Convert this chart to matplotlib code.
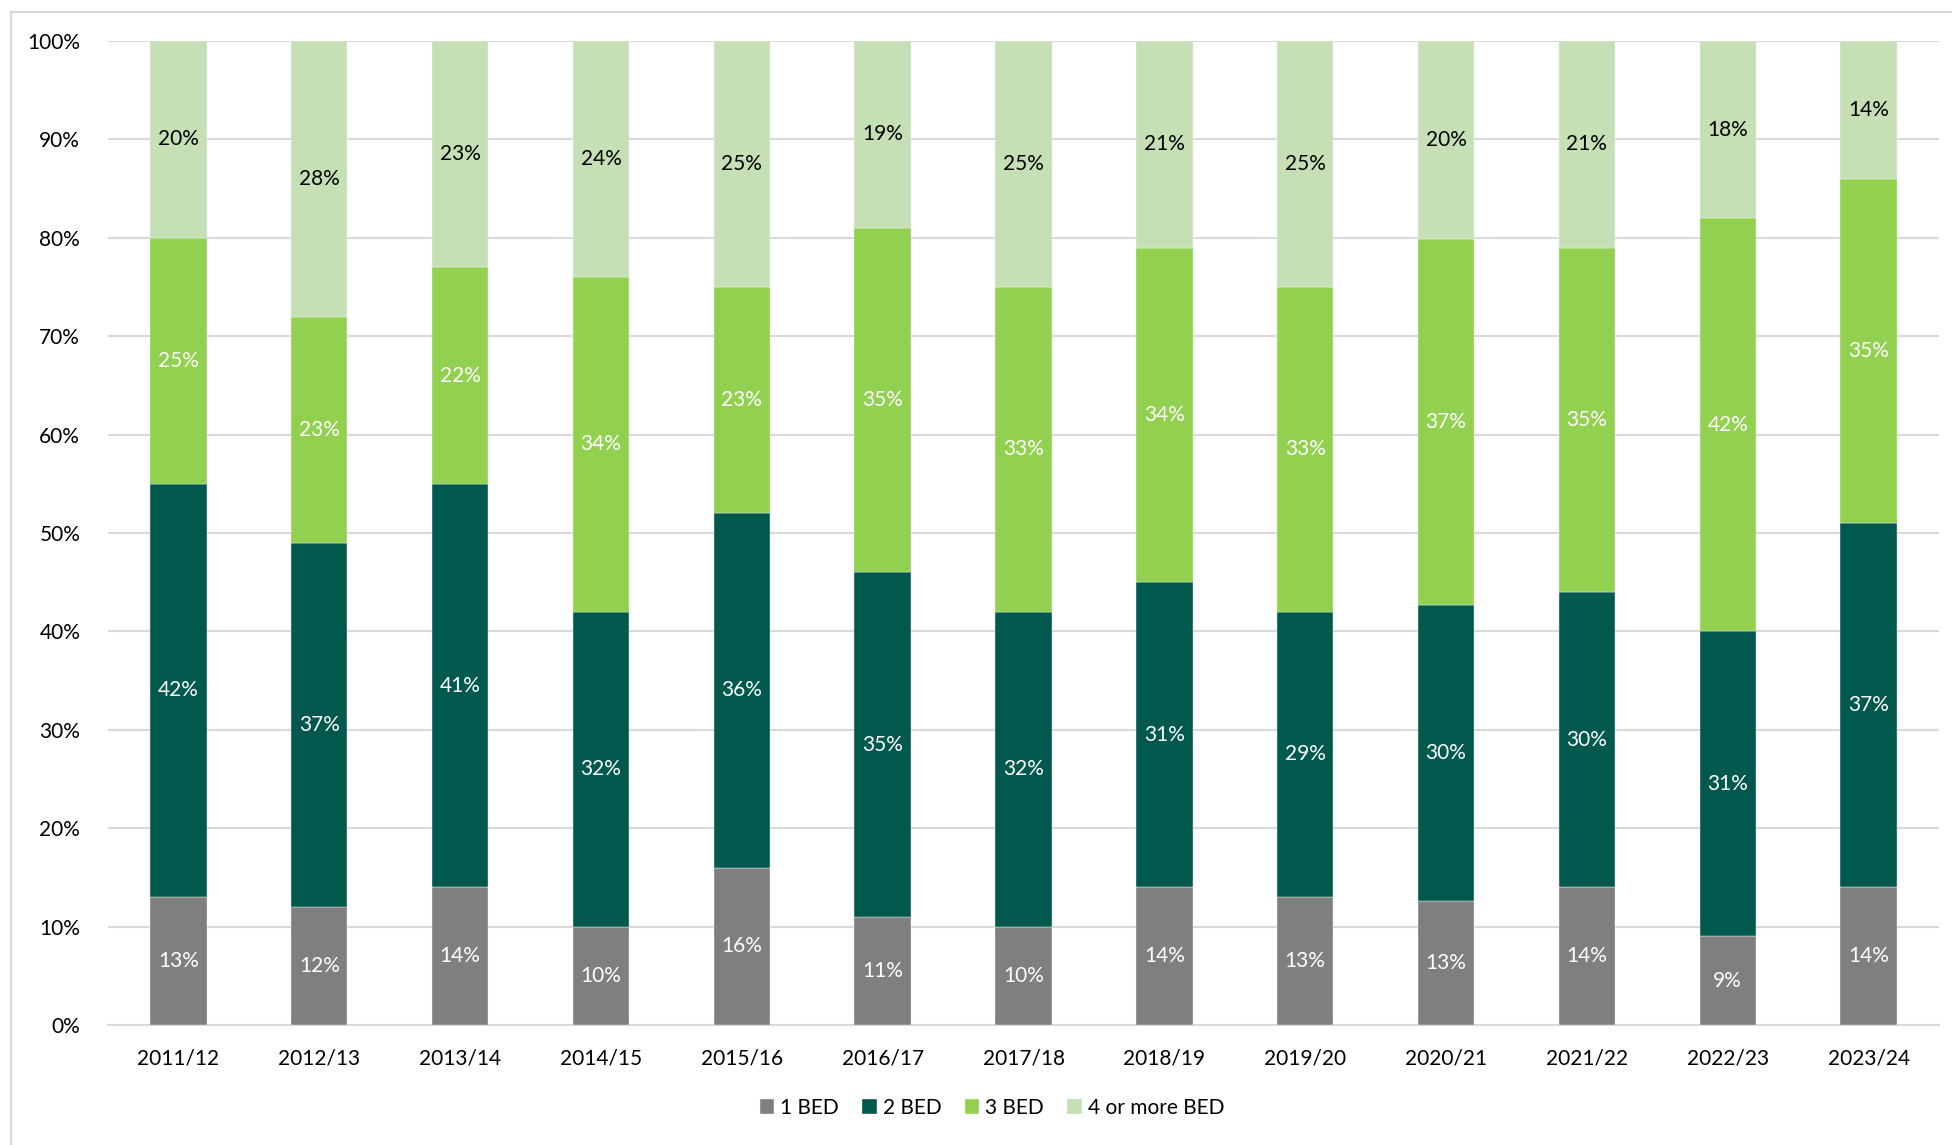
import matplotlib
matplotlib.use("Agg")
import matplotlib.pyplot as plt
from matplotlib.patches import Rectangle
import numpy as np

plt.rcParams['font.family'] = ['Lato', 'DejaVu Sans']

years = ["2011/12", "2012/13", "2013/14", "2014/15", "2015/16", "2016/17", "2017/18",
         "2018/19", "2019/20", "2020/21", "2021/22", "2022/23", "2023/24"]
bed1 = [13, 12, 14, 10, 16, 11, 10, 14, 13, 12.6, 14, 9, 14]
bed2 = [42, 37, 41, 32, 36, 35, 32, 31, 29, 30.1, 30, 31, 37]
bed3 = [25, 23, 22, 34, 23, 35, 33, 34, 33, 37.2, 35, 42, 35]
bed4 = [20, 28, 23, 24, 25, 19, 25, 21, 25, 20.1, 21, 18, 14]

series_names = ["1 BED", "2 BED", "3 BED", "4 or more BED"]
colors = ["#7F7F7F", "#00594C", "#92D050", "#C5E0B4"]
label_colors = ["white", "white", "white", "black"]

W, H = 1952, 1145
fig = plt.figure(figsize=(W / 100, H / 100), dpi=100)
ax = fig.add_axes([108 / W, 1 - 1025 / H, (1939 - 108) / W, (1025 - 41) / H])

# outer chart frame
fig.patches.append(Rectangle((11 / W, -0.05), 1.2, 1 - 12 / H + 0.05, transform=fig.transFigure,
                             fill=False, edgecolor="#D9D9D9", linewidth=1.5, zorder=0))

x = np.arange(len(years))
bottom = np.zeros(len(years))
data = [bed1, bed2, bed3, bed4]
for vals, name, col, lc in zip(data, series_names, colors, label_colors):
    vals = np.array(vals, dtype=float)
    ax.bar(x, vals / 100, bottom=bottom / 100, width=0.4, color=col, label=name,
           edgecolor="#F2F2F2", linewidth=0.3, zorder=3)
    for xi, b, v in zip(x, bottom, vals):
        ax.text(xi, (b + v / 2) / 100, f"{round(v):.0f}%", ha="center", va="center",
                color=lc, fontsize=15, zorder=4)
    bottom += vals

ax.set_xlim(-0.5, len(years) - 0.5)
ax.set_ylim(0, 1)
ax.set_yticks(np.arange(0, 1.01, 0.1))
ax.set_yticklabels([f"{int(round(t * 100))}%" for t in np.arange(0, 1.01, 0.1)])
ax.set_xticks(x)
ax.set_xticklabels(years)
ax.tick_params(axis="both", length=0, labelsize=15, colors="black")
ax.tick_params(axis="x", pad=17)
ax.tick_params(axis="y", pad=20)
ax.grid(axis="y", color="#D9D9D9", linewidth=1.5, zorder=0)
ax.set_axisbelow(True)
for s in ["top", "right", "left"]:
    ax.spines[s].set_visible(False)
ax.spines["bottom"].set_color("#D9D9D9")
ax.spines["bottom"].set_linewidth(1.5)

fig.legend(loc="center", bbox_to_anchor=(992 / W, 1 - 1108 / H), ncol=4, frameon=False,
           fontsize=15, handlelength=0.7, handleheight=0.7, handletextpad=0.3, columnspacing=1.1)

fig.savefig("out.png", dpi=100)
